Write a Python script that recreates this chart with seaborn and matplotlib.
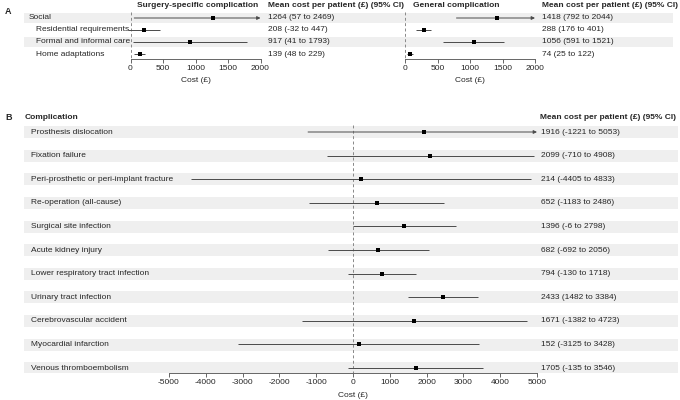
import matplotlib
matplotlib.use("Agg")
import matplotlib.pyplot as plt
import seaborn as sns

# Panel A data: social costs
social_labels = ["Social", "Residential requirements", "Formal and informal care", "Home adaptations"]
social_indent = [False, True, True, True]
surg_mean = [1264, 208, 917, 139]
surg_lo = [57, -32, 41, 48]
surg_hi = [2469, 447, 1793, 229]
gen_mean = [1418, 288, 1056, 74]
gen_lo = [792, 176, 591, 25]
gen_hi = [2044, 401, 1521, 122]
a_ticks = [0, 500, 1000, 1500, 2000]

# Panel B data: complications
comp_labels = ["Prosthesis dislocation", "Fixation failure", "Peri-prosthetic or peri-implant fracture",
               "Re-operation (all-cause)", "Surgical site infection", "Acute kidney injury",
               "Lower respiratory tract infection", "Urinary tract infection",
               "Cerebrovascular accident", "Myocardial infarction", "Venous thromboembolism"]
comp_mean = [1916, 2099, 214, 652, 1396, 682, 794, 2433, 1671, 152, 1705]
comp_lo = [-1221, -710, -4405, -1183, -6, -692, -130, 1482, -1382, -3125, -135]
comp_hi = [5053, 4908, 4833, 2486, 2798, 2056, 1718, 3384, 4723, 3428, 3546]
b_ticks = [-5000, -4000, -3000, -2000, -1000, 0, 1000, 2000, 3000, 4000, 5000]

sns.set_style("white")
plt.rcParams["font.family"] = ["Liberation Sans", "DejaVu Sans"]
plt.rcParams["font.size"] = 6

W, H = 680, 400
fig = plt.figure(figsize=(6.8, 4), dpi=100)

STRIPE = "#efefef"
LINE = "#4a4a4a"
AXC = "#666666"


def px_axes(left, top, right, bottom, x0, ppu, y0, ppr):
    ax = fig.add_axes([left / W, 1 - bottom / H, (right - left) / W, (bottom - top) / H])
    ax.set_xlim((left - x0) / ppu, (right - x0) / ppu)
    ax.set_ylim((bottom - y0) / ppr, (top - y0) / ppr)
    ax.patch.set_alpha(0)
    return ax


def style_axis(ax, ticks):
    for s in ["top", "left", "right"]:
        ax.spines[s].set_visible(False)
    ax.spines["bottom"].set_bounds(ticks[0], ticks[-1])
    ax.spines["bottom"].set_color(AXC)
    ax.spines["bottom"].set_linewidth(0.7)
    ax.set_xticks(ticks)
    ax.set_xticklabels([str(t) for t in ticks])
    ax.set_yticks([])
    ax.tick_params(axis="x", length=3, width=0.7, color=AXC, labelsize=6, pad=1.5, bottom=True)


def forest(ax, means, lo, hi, cap, vtop):
    ys = list(range(len(means)))
    ax.vlines(0, vtop, ax.get_ylim()[0], colors="#888888", linestyles=(0, (3, 2.5)), linewidth=0.7, zorder=1)
    for y, l, h in zip(ys, lo, hi):
        if h > cap:
            ax.annotate("", xy=(cap, y), xytext=(l, y),
                        arrowprops=dict(arrowstyle="-|>", color=LINE, lw=0.7,
                                        shrinkA=0, shrinkB=0, mutation_scale=5))
        else:
            ax.hlines(y, l, h, colors=LINE, linewidth=0.7, zorder=2)
    sns.scatterplot(x=means, y=ys, marker="s", color="black", s=5, linewidth=0,
                    ax=ax, zorder=3, legend=False)


# ---- Panel A, left (surgery-specific) ----
axL = px_axes(24, 10.8, 340, 59, x0=130.5, ppu=0.065, y0=18, ppr=12)
axR = px_axes(340, 10.8, 673, 59, x0=405, ppu=0.065, y0=18, ppr=12)
for ax in (axL, axR):
    for i in range(len(social_labels)):
        if i % 2 == 0:
            ax.axhspan(i - 0.45, i + 0.45, color=STRIPE, zorder=0, linewidth=0)

forest(axL, surg_mean, surg_lo, surg_hi, 2000, -0.5)
forest(axR, gen_mean, gen_lo, gen_hi, 2000, -0.5)
style_axis(axL, a_ticks)
style_axis(axR, a_ticks)

pxL = lambda p: (p - 130.5) / 0.065
pxR = lambda p: (p - 405) / 0.065
for i, (lab, ind) in enumerate(zip(social_labels, social_indent)):
    axL.text(pxL(36 if ind else 29), i, lab, ha="left", va="center", fontsize=6)
    axL.text(pxL(268), i, f"{surg_mean[i]} ({surg_lo[i]} to {surg_hi[i]})", ha="left", va="center", fontsize=6)
    axR.text(pxR(542), i, f"{gen_mean[i]} ({gen_lo[i]} to {gen_hi[i]})", ha="left", va="center", fontsize=6)

axL.text(pxL(137), -1.0, "Surgery-specific complication", ha="left", va="center", fontsize=6, fontweight="bold", clip_on=False)
axL.text(pxL(268), -1.0, "Mean cost per patient (£) (95% CI)", ha="left", va="center", fontsize=6, fontweight="bold", clip_on=False)
axR.text(pxR(413), -1.0, "General complication", ha="left", va="center", fontsize=6, fontweight="bold", clip_on=False)
axR.text(pxR(542), -1.0, "Mean cost per patient (£) (95% CI)", ha="left", va="center", fontsize=6, fontweight="bold", clip_on=False)
axL.text(1000, 5.2, "Cost (£)", ha="center", va="center", fontsize=6, clip_on=False)
axR.text(1000, 5.2, "Cost (£)", ha="center", va="center", fontsize=6, clip_on=False)

# ---- Panel B ----
axB = px_axes(24, 114, 678, 373, x0=353, ppu=0.0368, y0=132, ppr=23.6)
for i in range(len(comp_labels)):
    axB.axhspan(i - 0.25, i + 0.26, color=STRIPE, zorder=0, linewidth=0)
forest(axB, comp_mean, comp_lo, comp_hi, 5000, -0.3)
style_axis(axB, b_ticks)

pxB = lambda p: (p - 353) / 0.0368
for i, lab in enumerate(comp_labels):
    axB.text(pxB(31), i, lab, ha="left", va="center", fontsize=6)
    axB.text(pxB(541), i, f"{comp_mean[i]} ({comp_lo[i]} to {comp_hi[i]})", ha="left", va="center", fontsize=6)
axB.text(pxB(25), -0.6, "Complication", ha="left", va="center", fontsize=6, fontweight="bold", clip_on=False)
axB.text(pxB(540), -0.6, "Mean cost per patient (£) (95% CI)", ha="left", va="center", fontsize=6, fontweight="bold", clip_on=False)
axB.text(0, 11.15, "Cost (£)", ha="center", va="center", fontsize=6, clip_on=False)

fig.text(5 / W, 1 - 12 / H, "A", fontsize=6.5, fontweight="bold", va="center")
fig.text(5 / W, 1 - 118 / H, "B", fontsize=6.5, fontweight="bold", va="center")

fig.savefig("out.png", dpi=100)
